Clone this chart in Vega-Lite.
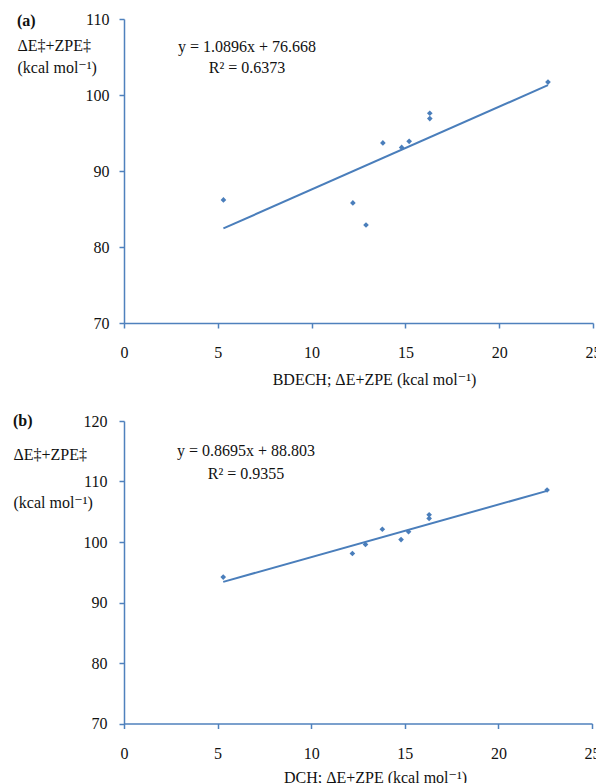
{
  "$schema": "https://vega.github.io/schema/vega-lite/v6.json",
  "padding": {"left": 13, "top": 11, "right": 0, "bottom": 0},
  "background": "white",
  "columns": 1,
  "align": "none",
  "spacing": 26,
  "config": {
    "font": "Liberation Serif, DejaVu Serif, serif",
    "view": {"stroke": null},
    "title": {"font": "Liberation Serif, DejaVu Serif, serif", "fontSize": 16, "fontWeight": "bold", "color": "#111111"},
    "axis": {
      "grid": false,
      "domainColor": "#4f81bd",
      "domainWidth": 1.5,
      "tickColor": "#4f81bd",
      "tickWidth": 1.5,
      "tickSize": 5,
      "labelFont": "Liberation Serif, DejaVu Serif, serif",
      "labelFontSize": 16,
      "labelColor": "#111111",
      "titleFont": "Liberation Serif, DejaVu Serif, serif",
      "titleFontSize": 16,
      "titleFontWeight": "normal",
      "titleColor": "#111111"
    }
  },
  "datasets": {
    "a_points": [
      {"x": 5.3, "y": 86.2}, {"x": 12.2, "y": 85.8}, {"x": 12.9, "y": 82.9},
      {"x": 13.8, "y": 93.7}, {"x": 14.8, "y": 93.1}, {"x": 15.2, "y": 93.9},
      {"x": 16.3, "y": 97.6}, {"x": 16.3, "y": 96.9}, {"x": 22.6, "y": 101.7}
    ],
    "a_trend": [{"x": 5.3, "y": 82.44}, {"x": 22.6, "y": 101.29}],
    "a_eq": [
      {"x": 6.56, "y": 106.3, "label": "y = 1.0896x + 76.668"},
      {"x": 6.56, "y": 103.55, "label": "R² = 0.6373"}
    ],
    "b_points": [
      {"x": 5.3, "y": 94.2}, {"x": 12.2, "y": 98.1}, {"x": 12.9, "y": 99.6},
      {"x": 13.8, "y": 102.1}, {"x": 14.8, "y": 100.4}, {"x": 15.2, "y": 101.7},
      {"x": 16.3, "y": 104.5}, {"x": 16.3, "y": 103.9}, {"x": 22.6, "y": 108.6}
    ],
    "b_trend": [{"x": 5.3, "y": 93.41}, {"x": 22.6, "y": 108.45}],
    "b_eq": [
      {"x": 6.52, "y": 115.1, "label": "y = 0.8695x + 88.803"},
      {"x": 6.52, "y": 111.3, "label": "R² = 0.9355"}
    ]
  },
  "concat": [
    {
      "width": 469,
      "height": 304,
      "title": {"text": "(a)", "anchor": "start", "frame": "bounds", "offset": -18},
      "encoding": {
        "x": {
          "field": "x", "type": "quantitative",
          "scale": {"domain": [0, 25], "nice": false, "zero": false},
          "axis": {
            "values": [0, 5, 10, 15, 20, 25],
            "title": "BDECH; ΔE+ZPE (kcal mol⁻¹)",
            "labelFlush": false,
            "labelPadding": 16,
            "titlePadding": 11,
            "titleX": 250,
            "titleAlign": "center"
          }
        },
        "y": {
          "field": "y", "type": "quantitative",
          "scale": {"domain": [70, 110], "nice": false, "zero": false},
          "axis": {
            "values": [70, 80, 90, 100, 110],
            "labelPadding": 10,
            "title": ["\u00a0ΔE‡+ZPE‡", "(kcal mol⁻¹)"],
            "titleAngle": 0,
            "titleAlign": "left",
            "titleBaseline": "top",
            "titleX": -107,
            "titleY": 18,
            "titleLineHeight": 22
          }
        }
      },
      "layer": [
        {
          "data": {"name": "a_trend"},
          "mark": {"type": "line", "color": "#4a7ebb", "strokeWidth": 2}
        },
        {
          "data": {"name": "a_points"},
          "mark": {"type": "point", "shape": "diamond", "filled": true, "size": 32, "color": "#4a7ebb", "opacity": 1}
        },
        {
          "data": {"name": "a_eq"},
          "mark": {"type": "text", "fontSize": 16, "align": "center", "baseline": "middle", "color": "#111111", "font": "Liberation Serif, DejaVu Serif, serif"},
          "encoding": {"text": {"field": "label", "type": "nominal"}}
        }
      ]
    },
    {
      "width": 468,
      "height": 302.5,
      "title": {"text": "(b)", "anchor": "start", "frame": "bounds", "offset": -16},
      "encoding": {
        "x": {
          "field": "x", "type": "quantitative",
          "scale": {"domain": [0, 25], "nice": false, "zero": false},
          "axis": {
            "values": [0, 5, 10, 15, 20, 25],
            "title": "DCH; ΔE+ZPE (kcal mol⁻¹)",
            "labelFlush": false,
            "labelPadding": 17,
            "titlePadding": 8,
            "titleX": 251,
            "titleAlign": "center"
          }
        },
        "y": {
          "field": "y", "type": "quantitative",
          "scale": {"domain": [70, 120], "nice": false, "zero": false},
          "axis": {
            "values": [70, 80, 90, 100, 110, 120],
            "labelPadding": 12,
            "title": ["\u00a0\u00a0ΔE‡+ZPE‡", "(kcal mol⁻¹)"],
            "titleAngle": 0,
            "titleAlign": "left",
            "titleBaseline": "top",
            "titleX": -111,
            "titleY": 25,
            "titleLineHeight": 48
          }
        }
      },
      "layer": [
        {
          "data": {"name": "b_trend"},
          "mark": {"type": "line", "color": "#4a7ebb", "strokeWidth": 2}
        },
        {
          "data": {"name": "b_points"},
          "mark": {"type": "point", "shape": "diamond", "filled": true, "size": 32, "color": "#4a7ebb", "opacity": 1}
        },
        {
          "data": {"name": "b_eq"},
          "mark": {"type": "text", "fontSize": 16, "align": "center", "baseline": "middle", "color": "#111111", "font": "Liberation Serif, DejaVu Serif, serif"},
          "encoding": {"text": {"field": "label", "type": "nominal"}}
        }
      ]
    }
  ]
}
